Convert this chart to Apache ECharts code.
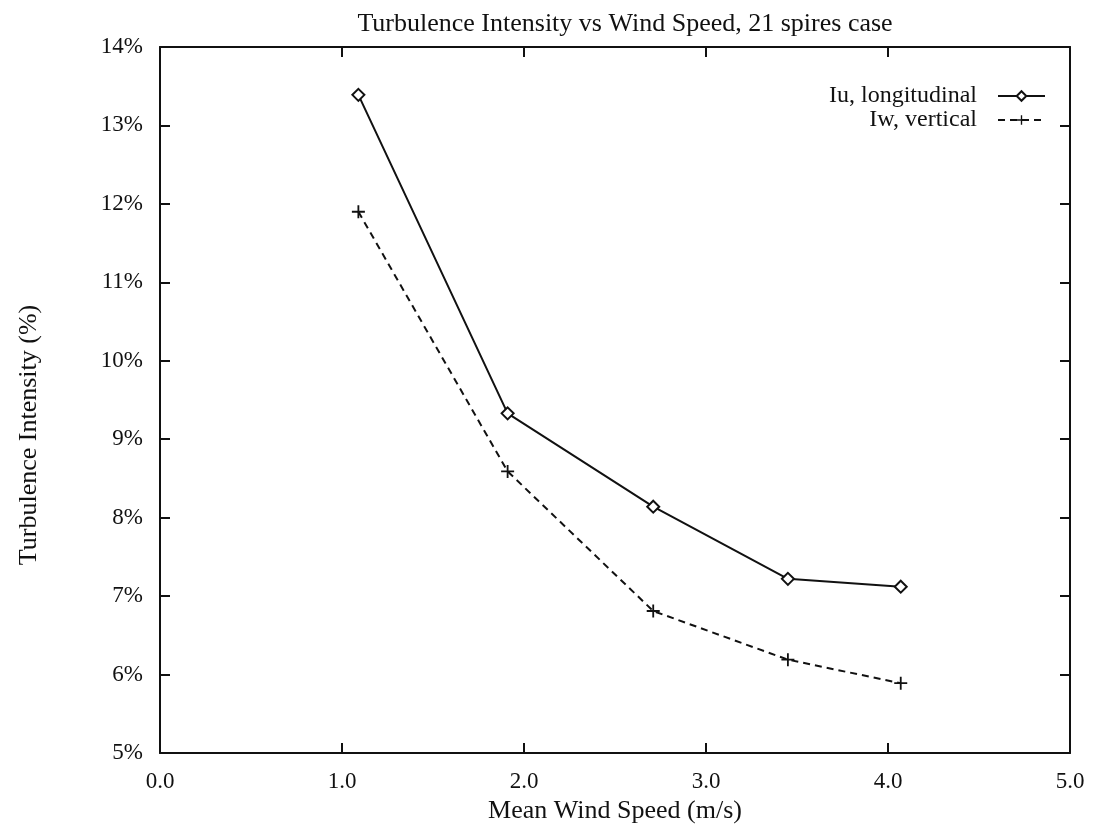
<!DOCTYPE html>
<html>
<head>
<meta charset="utf-8">
<script src="https://cdn.jsdelivr.net/npm/echarts@6/dist/echarts.min.js"></script>
<style>
  html, body { margin: 0; padding: 0; background: #fff; }
  #main { width: 1096px; height: 830px; }
</style>
</head>
<body>
<div id="main"></div>
<script>
const windSpeed = [1.09, 1.91, 2.71, 3.45, 4.07]
const iuLongitudinal = [13.39, 9.33, 8.14, 7.22, 7.12]
const iwVertical = [11.90, 8.59, 6.81, 6.19, 5.89]
const xTicks = [0, 1, 2, 3, 4, 5]

const font = 'Liberation Serif'
const plus = 'path://M4.3,0H5.7V4.3H10V5.7H5.7V10H4.3V5.7H0V4.3H4.3Z'

const pair = (xs, ys) => xs.map((x, i) => [x, ys[i]])

const chart = echarts.init(document.getElementById('main'))

// shared look for the four frame sides, ticks point into the plot
const frameAxis = {
  min: 0,
  max: 5,
  interval: 1,
  axisLine: { show: true, onZero: false, lineStyle: { color: '#111', width: 2 } },
  axisTick: { show: true, inside: true, length: 10, lineStyle: { color: '#111', width: 2 } },
  splitLine: { show: false }
}

const option = {
  backgroundColor: '#fff',
  title: {
    text: 'Turbulence Intensity vs Wind Speed, 21 spires case',
    left: 620,
    top: 6,
    textAlign: 'center',
    textStyle: { fontFamily: font, fontSize: 26, fontWeight: 'normal', color: '#111' }
  },
  legend: {
    right: 45,
    top: 79,
    orient: 'vertical',
    align: 'right',
    itemWidth: 47,
    itemHeight: 12,
    itemGap: 0,
    textStyle: { fontFamily: font, fontSize: 24, color: '#111', padding: [0, 16, 0, 0] },
    data: ['Iu, longitudinal', 'Iw, vertical']
  },
  grid: { left: 160, right: 26, top: 47, bottom: 77 },
  xAxis: [{
    ...frameAxis,
    type: 'value',
    position: 'bottom',
    name: 'Mean Wind Speed (m/s)',
    nameLocation: 'middle',
    nameGap: 40,
    nameTextStyle: { fontFamily: font, fontSize: 26, color: '#111' },
    axisLabel: {
      fontFamily: font, fontSize: 23, color: '#111', margin: 17,
      formatter: (v) => xTicks.includes(v) ? v.toFixed(1) : ''
    }
  }, {
    ...frameAxis,
    type: 'value',
    position: 'top',
    axisLabel: { show: false }
  }],
  yAxis: [{
    ...frameAxis,
    type: 'value',
    min: 5,
    max: 14,
    position: 'left',
    name: 'Turbulence Intensity (%)',
    nameLocation: 'middle',
    nameGap: 118,
    nameTextStyle: { fontFamily: font, fontSize: 26, color: '#111', padding: [0, 70, 0, 0] },
    axisLabel: { fontFamily: font, fontSize: 23, color: '#111', margin: 17, formatter: (v) => v + '%' }
  }, {
    ...frameAxis,
    type: 'value',
    min: 5,
    max: 14,
    position: 'right',
    axisLabel: { show: false }
  }],
  series: [{
    name: 'Iu, longitudinal',
    type: 'line',
    data: pair(windSpeed, iuLongitudinal),
    symbol: 'diamond',
    symbolSize: 12,
    color: '#111',
    lineStyle: { color: '#111', width: 2 },
    itemStyle: { color: '#fff', borderColor: '#111', borderWidth: 2 }
  }, {
    name: 'Iw, vertical',
    type: 'line',
    data: pair(windSpeed, iwVertical),
    symbol: plus,
    symbolSize: 13,
    color: '#111',
    lineStyle: { color: '#111', width: 2, type: [7, 5] },
    itemStyle: { color: '#111', borderWidth: 0 }
  }]
}

chart.setOption(option)
</script>
</body>
</html>
